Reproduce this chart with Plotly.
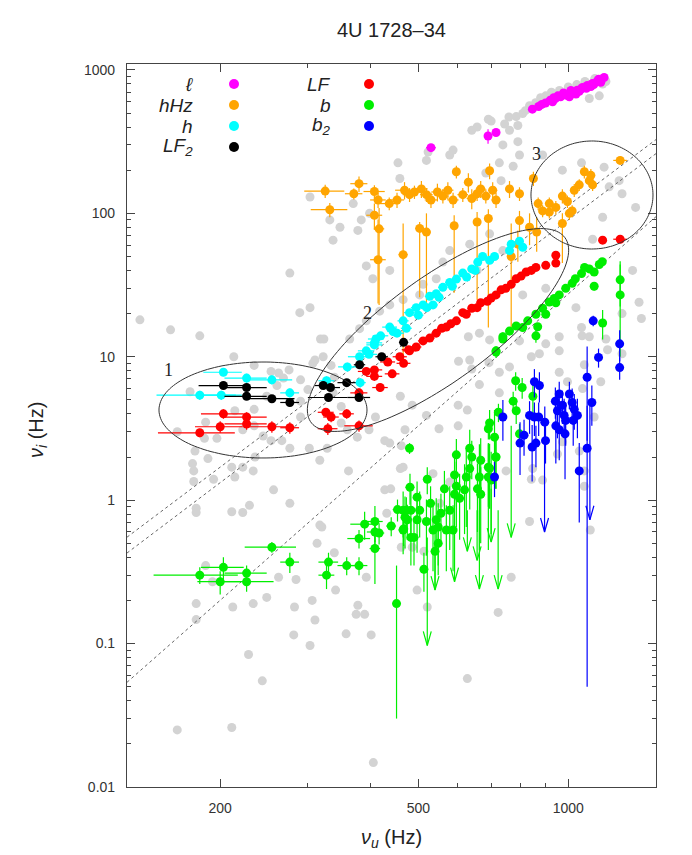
import numpy as np
import plotly.graph_objects as go

# ---------------- data (Hz) ----------------
# background sample (grey)
grey_pts = [
    (182, 14.0), (213, 10), (318, 13.3), (164, 3.0), (174, 5.7), (187, 3.5), (214, 4.2), (234, 4.3),
    (248, 5.3), (260, 6.3), (275, 8.1), (262, 7.7), (290, 4.9), (290, 3.8), (300, 5.9), (307, 9.0),
    (334, 8.7), (339, 7.2), (302, 2.3), (317, 1.9), (328, 2.3), (176, 1.8), (178, 2.2), (177, 1.6),
    (177, 1.35), (189, 1.95), (194, 1.4), (211, 1.7), (214, 1.45), (222, 1.7), (233, 1.6), (235, 2.0),
    (256, 1.18), (276, 0.95), (211, 0.83), (222, 0.82), (229, 0.92), (179, 0.88), (179, 0.82),
    (187, 0.35), (193, 0.27), (179, 0.19), (179, 0.147), (212, 0.18), (233, 0.19), (248, 0.21),
    (262, 0.29), (284, 0.28), (282, 0.18), (281, 0.115), (303, 0.097), (306, 0.2), (310, 0.146),
    (313, 0.5), (320, 0.65), (339, 0.43), (341, 0.236), (378, 0.185), (390, 0.16), (375, 0.16),
    (402, 0.115), (393, 0.29), (228, 0.084), (243, 0.055), (211, 0.026), (164, 0.025), (406, 0.0148),
    (234, 3.3), (244, 2.8), (253, 2.6), (222, 3.1), (197, 2.7), (186, 2.7), (266, 2.6), (276, 2.3),
    (234, 8.7), (253, 7.9), (268, 7.1), (290, 6.9), (310, 9.5), (322, 10), (337, 5.6), (350, 4.5),
    (350, 3.45), (360, 3.1), (377, 2.75), (398, 3.1), (410, 3.8), (428, 2.6), (460, 5.3), (462, 2.4),
    (438, 2.5), (428, 1.18), (440, 1.2), (460, 1.66), (432, 0.81), (362, 1.6), (317, 0.67), (358, 0.117),
    (695, 13.1), (630, 13.8), (602, 9.3), (640, 8.2), (663, 6.4), (727, 5.6), (762, 8.5), (843, 10),
    (875, 10.5), (959, 7.8), (1077, 8.8), (1066, 14), (1102, 13.8), (959, 13.8), (1199, 11.2),
    (1162, 6.7), (1068, 6.0), (1127, 3.8), (996, 6.7), (1077, 1.25), (1107, 0.62), (836, 0.71),
    (768, 0.29), (723, 0.165), (627, 0.057), (521, 0.18), (497, 0.236), (486, 0.47), (513, 0.44),
    (552, 0.95), (578, 1.34), (601, 3.3), (627, 4.25), (550, 3.15), (519, 3.9), (486, 4.6), (470, 3.1),
    (601, 4.6), (634, 9.5), (693, 9.1), (727, 7.8), (750, 1.6), (848, 1.66), (888, 1.38), (951, 2.1),
    (1077, 1.6), (1052, 2.2), (973, 2.55), (843, 1.4), (535, 1.53), (466, 1.7), (462, 0.47),
    (303, 130), (332, 90), (348, 80), (337, 65), (370, 117), (384, 90), (378, 76), (399, 100),
    (459, 175), (455, 225), (519, 234), (523, 268), (578, 255), (587, 276), (640, 380), (683, 191),
    (733, 169), (786, 473), (810, 497), (836, 563), (792, 410), (745, 420), (762, 380), (691, 453),
    (656, 400), (901, 660), (1172, 798), (1154, 660), (1102, 632), (792, 316), (739, 300), (727, 225),
    (775, 213), (798, 255), (888, 255), (973, 200), (1063, 225), (1180, 210), (1208, 153), (1282, 137),
    (1365, 110), (1265, 169), (1119, 66), (1172, 94), (1346, 40), (1387, 24), (1402, 18.5), (1282, 20),
    (1282, 10.5), (1036, 22), (1063, 16), (1190, 13.3), (901, 30), (810, 27), (901, 12.3), (959, 11),
    (798, 12.9), (663, 14.6), (656, 40), (695, 72), (739, 55), (634, 61), (560, 45.7), (543, 35),
    (511, 32), (503, 27), (466, 25), (438, 23), (418, 20.8), (393, 17.8), (381, 15.7), (364, 13.3),
    (323, 13.3), (289, 20.3), (303, 22), (276, 38.3), (393, 43), (405, 35), (438, 40), (578, 55),
    (138, 18.1), (159, 15.4), (880, 640), (925, 700), (960, 720), (1000, 760), (1040, 790), (1080, 830),
    (1130, 870), (1190, 830), (860, 590), (820, 520), (700, 440), (760, 470),
]

# l (magenta): (nu_u, nu_i, err_u, err_i)
ell_pts = [
    (530, 287, 12, 8), (690, 346, 8, 40), (716, 366, 8, 15), (847, 533, 10, 20), (872, 556, 10, 20),
    (900, 588, 10, 20), (930, 600, 10, 20), (942, 632, 10, 20), (953, 660, 10, 20), (965, 650, 10, 20),
    (990, 667, 10, 20), (1005, 650, 10, 20), (1018, 693, 10, 20), (1036, 680, 10, 20), (1042, 722, 10, 20),
    (1052, 710, 10, 20), (1068, 755, 10, 20), (1087, 745, 10, 20), (1092, 780, 10, 20), (1110, 765, 10, 20),
    (1118, 805, 10, 20), (1143, 835, 10, 20), (1162, 820, 10, 20), (1180, 885, 10, 20),
    (935, 640, 10, 20), (978, 690, 10, 20), (1012, 720, 10, 20), (1060, 735, 10, 20), (1125, 790, 10, 20),
    (1150, 860, 10, 20), (920, 615, 10, 20), (885, 575, 10, 20),
]

# hHz (orange): (nu_u, nu_i, err_u, err_i_minus, err_i_plus)
hhz_pts = [
    (325, 143, 30, 15, 15), (332, 106, 28, 12, 12), (371, 137, 15, 12, 12), (380, 161, 15, 20, 20),
    (408, 142, 20, 15, 15), (415, 124, 15, 15, 15), (437, 117, 20, 12, 12), (453, 124, 15, 15, 15),
    (469, 145, 20, 20, 20), (480, 135, 15, 15, 15), (491, 141, 15, 15, 15), (507, 148, 15, 20, 20),
    (519, 135, 15, 15, 15), (530, 124, 15, 15, 15), (546, 141, 15, 20, 20), (560, 132, 15, 15, 15),
    (573, 145, 15, 20, 20), (587, 124, 15, 15, 15), (596, 195, 10, 20, 20), (614, 135, 15, 15, 15),
    (630, 165, 10, 25, 25), (640, 127, 15, 20, 20), (656, 137, 15, 15, 15), (667, 148, 15, 20, 20),
    (683, 132, 15, 15, 15), (695, 198, 10, 25, 25), (705, 145, 15, 20, 20), (716, 124, 15, 15, 15),
    (762, 148, 15, 20, 20), (798, 137, 15, 15, 15), (851, 175, 10, 20, 20), (888, 104, 15, 10, 10),
    (916, 117, 15, 12, 12), (944, 110, 15, 12, 12), (973, 132, 15, 15, 15), (996, 121, 15, 12, 12),
    (1028, 145, 15, 15, 15), (1052, 158, 15, 15, 15), (1077, 195, 15, 20, 20), (1102, 169, 12, 15, 15),
    (1110, 184, 12, 20, 20), (1119, 158, 12, 15, 15), (1271, 234, 40, 15, 15), (1018, 104, 15, 10, 10),
    (870, 117, 15, 12, 12), (916, 102, 15, 10, 10), (1005, 100, 15, 10, 10),
    (408, 97, 15, 20, 20), (417, 78, 10, 55, 31), (415, 47.5, 15, 24, 43), (466, 51.5, 10, 42.6, 33.5),
    (503, 78.5, 10, 52.5, 8.5), (519, 74, 10, 51, 26), (590, 82, 10, 54, 15), (656, 87, 10, 62, 15),
    (691, 92, 10, 76, 15), (768, 50, 10, 34, 35), (798, 89, 10, 15, 15), (792, 61, 10, 15, 15),
    (836, 80, 10, 20, 20), (864, 74, 10, 20, 20), (973, 85, 10, 40, 15),
]

# h (cyan)
h_pts = [
    (203, 7.8, 18, 0.5), (226, 7.1, 22, 0.5), (254, 6.9, 25, 0.5), (182, 5.4, 33, 0.4), (201, 5.4, 20, 0.4),
    (276, 5.6, 12, 0.4), (327, 6.8, 12, 0.5), (360, 8.5, 15, 0.6), (382, 6.6, 10, 0.5), (398, 10.4, 15, 0.6),
    (408, 12.5, 15, 0.7), (381, 10, 20, 0.6), (393, 11.0, 15, 0.6), (408, 12.1, 15, 0.7), (411, 13.3, 15, 0.7),
    (420, 14, 15, 0.7), (438, 16.1, 15, 0.8), (445, 15, 12, 0.8), (453, 14.6, 15, 0.8), (466, 17.8, 12, 0.9),
    (473, 15.8, 12, 0.8), (480, 20.3, 12, 1), (495, 22, 12, 1), (500, 19.5, 12, 1), (511, 23, 12, 1),
    (520, 22, 12, 1), (527, 26.4, 12, 1), (535, 23, 12, 1), (543, 27.5, 12, 1.2), (550, 26, 12, 1.2),
    (560, 30.5, 12, 1.2), (578, 33, 12, 1.5), (585, 31, 12, 1.5), (596, 34.8, 12, 1.5), (614, 38.3, 12, 1.5),
    (625, 36, 12, 1.5), (640, 41, 12, 2), (650, 40, 12, 2), (658, 45.7, 12, 2), (673, 50, 12, 2),
    (695, 47, 12, 2), (711, 50, 12, 2), (762, 55, 12, 3), (768, 61, 12, 3), (798, 64, 12, 3), (810, 58, 12, 3),
]

# LF2 (black)
lf2_pts = [
    (203, 6.3, 22, 0.3), (226, 6.1, 22, 0.3), (226, 5.3, 22, 0.3), (254, 5.1, 28, 0.3), (276, 4.8, 12, 0.3),
    (322, 6.3, 12, 0.3), (333, 6.1, 15, 0.3), (330, 5.2, 30, 0.3), (359, 6.6, 15, 0.3), (380, 5.2, 20, 0.3),
    (381, 8.8, 10, 0.4), (422, 10, 12, 0.4), (467, 12.6, 10, 0.5),
]

# LF (red)
lf_pts = [
    (203, 4.0, 20, 0.3), (226, 3.8, 22, 0.3), (226, 3.4, 22, 0.3), (200, 3.25, 22, 0.3), (182, 2.95, 32, 0.2),
    (254, 3.25, 25, 0.3), (276, 3.2, 12, 0.3), (326, 4.1, 12, 0.3), (334, 3.8, 12, 0.3), (359, 4.0, 12, 0.3),
    (329, 3.15, 15, 0.3), (380, 3.3, 25, 0.3), (380, 5.6, 15, 0.4), (393, 7.9, 15, 0.5), (408, 8.1, 15, 0.5),
    (419, 6.1, 15, 0.4), (408, 7.3, 15, 0.5), (443, 7.6, 15, 0.5), (434, 9.2, 15, 0.5), (467, 9.0, 15, 0.5),
    (478, 11.2, 15, 0.6), (459, 10, 15, 0.6), (480, 11, 15, 0.6), (495, 11.7, 12, 0.6), (511, 12.9, 12, 0.7),
    (527, 13.5, 12, 0.7), (543, 14.6, 12, 0.8), (557, 15.8, 12, 0.8), (569, 16.1, 12, 0.8), (581, 17, 12, 0.9),
    (596, 17.8, 12, 0.9), (614, 20.3, 12, 1), (624, 19.8, 12, 1), (640, 21.8, 12, 1), (656, 22, 12, 1),
    (667, 23.8, 12, 1.2), (688, 24.4, 12, 1.2), (700, 25.7, 12, 1.2), (716, 27, 12, 1.2), (733, 29.3, 12, 1.5),
    (749, 30, 12, 1.5), (768, 32, 12, 1.5), (786, 35, 12, 1.5), (804, 36.5, 12, 1.8), (823, 39, 12, 2),
    (843, 40, 12, 2), (861, 42, 12, 2), (901, 43.4, 12, 2), (944, 51, 12, 2.5), (944, 45, 12, 2.5),
    (1172, 65, 20, 3), (1271, 66, 40, 3),
]

# b (green)
b_pts = [
    (182, 0.30, 35, 0.04), (203, 0.34, 20, 0.06), (200, 0.27, 20, 0.05), (226, 0.31, 22, 0.04),
    (226, 0.27, 30, 0.04), (254, 0.47, 30, 0.04), (276, 0.37, 12, 0.06), (327, 0.30, 12, 0.06),
    (330, 0.37, 15, 0.06), (359, 0.35, 15, 0.05), (380, 0.35, 15, 0.05), (380, 0.54, 20, 0.08),
    (390, 0.68, 25, 0.15), (409, 0.71, 15, 0.2), (409, 0.60, 15, 0.15), (409, 0.46, 10, 0.2),
    (417, 0.59, 10, 0.1), (441, 0.66, 10, 0.1), (452, 0.19, 8, 0.16), (454, 0.86, 10, 0.15),
    (467, 0.63, 10, 0.15), (480, 2.3, 5, 0.2), (490, 0.55, 10, 0.2), (473, 0.85, 10, 0.2),
    (475, 0.73, 10, 0.2), (481, 1.23, 10, 0.3),
    (739, 13.8, 8, 1), (716, 10.8, 8, 1), (861, 14, 8, 1.5), (784, 6.8, 8, 1), (808, 6.1, 8, 1),
    (775, 4.9, 8, 0.8), (786, 4.2, 8, 0.8), (724, 4.1, 8, 0.6), (849, 5.3, 8, 1.5), (798, 2.9, 8, 0.5),
    (691, 3.15, 8, 0.5), (695, 3.45, 8, 0.8), (711, 2.75, 8, 1.5), (715, 2.0, 8, 0.8), (695, 1.67, 8, 0.8),
    (691, 1.45, 8, 1.0), (667, 1.9, 8, 0.8), (663, 1.45, 8, 1.0), (667, 1.1, 8, 0.6), (657, 1.2, 8, 0.6),
    (640, 2.0, 8, 0.6), (634, 2.3, 8, 0.8), (634, 1.66, 8, 0.8), (624, 1.45, 8, 0.8), (619, 1.18, 8, 0.6),
    (596, 2.07, 8, 0.6), (591, 1.5, 8, 0.6), (596, 1.25, 8, 0.6), (591, 1.1, 8, 0.5), (605, 1.03, 8, 0.5),
    (587, 0.62, 8, 0.3), (564, 1.2, 8, 0.4), (569, 0.62, 8, 0.3), (578, 0.85, 8, 0.4), (555, 0.81, 8, 0.3),
    (543, 0.73, 8, 0.3), (548, 0.65, 8, 0.3), (540, 0.44, 8, 0.2), (548, 0.50, 8, 0.2), (529, 0.95, 8, 0.3),
    (521, 1.4, 8, 0.3), (513, 0.33, 8, 0.1), (497, 1.05, 8, 0.3), (503, 0.85, 8, 0.3), (497, 0.73, 8, 0.3),
    (483, 0.85, 8, 0.3), (483, 0.55, 8, 0.2), (470, 0.76, 8, 0.3), (466, 0.85, 10, 0.3), (466, 0.62, 10, 0.2),
    (519, 0.71, 8, 0.3), (535, 0.62, 8, 0.3), (700, 1.38, 8, 0.8), (691, 1.7, 8, 0.8), (716, 2.0, 8, 0.8),
    (716, 11, 8, 0.8), (739, 13.3, 8, 0.8), (762, 15.1, 8, 1), (786, 16.4, 8, 1), (810, 16, 8, 1),
    (829, 17.8, 8, 1), (861, 19.8, 8, 1), (868, 16.2, 8, 1), (888, 21.8, 8, 1), (901, 19.8, 8, 1),
    (916, 24.1, 8, 1), (937, 25.5, 8, 1), (944, 23.8, 8, 1), (959, 27, 8, 1.2), (988, 30, 8, 1.2),
    (1018, 32.5, 8, 1.5), (1033, 35, 8, 1.5), (1063, 38, 8, 2), (1078, 42, 8, 2), (1102, 41, 8, 2),
    (1127, 39, 8, 2), (1154, 44, 8, 2), (1170, 46, 8, 2), (1127, 31, 8, 2), (1172, 17.2, 15, 4),
    (1271, 34.4, 10, 12), (1271, 27, 10, 17),
]

# b2 (blue)
b2_pts = [
    (739, 3.8, 8, 1.2), (711, 1.45, 5, 0.4), (815, 2.84, 8, 0.8), (800, 2.5, 8, 1.0), (846, 2.35, 8, 1.0),
    (861, 2.5, 8, 0.8), (855, 6.7, 8, 1.5), (875, 6.3, 8, 1.5), (836, 3.9, 8, 1.0), (855, 3.8, 8, 1.0),
    (872, 3.8, 8, 1.0), (897, 3.5, 8, 1.0), (900, 2.6, 8, 0.8), (942, 4.9, 8, 1.2), (959, 5.5, 8, 1.2),
    (951, 4.2, 8, 1.5), (944, 3.3, 8, 1.5), (959, 3.1, 8, 1.2), (973, 4.6, 8, 1.2), (981, 3.9, 8, 1.2),
    (988, 3.6, 8, 1.2), (985, 2.9, 8, 1.5), (1005, 5.5, 8, 1.2), (1018, 4.8, 8, 1.2), (1028, 4.3, 8, 1.2),
    (1023, 3.6, 8, 1.2), (1043, 3.9, 8, 1.2), (1052, 1.6, 8, 0.9), (1091, 7.2, 8, 4.6), (1091, 2.3, 8, 2.25),
    (1115, 4.8, 15, 1.5), (1150, 9.9, 8, 1.5), (1268, 12.3, 20, 3), (1268, 8.4, 8, 1.5), (1122, 17.8, 15, 1.5),
]

# upper limits: (nu_u, top of stem, arrow tip)
b_limits = [
    (521, 0.55, 0.097), (540, 0.5, 0.236), (591, 0.62, 0.27), (627, 0.85, 0.44), (656, 0.85, 0.38),
    (663, 0.85, 0.24), (700, 1.2, 0.51), (723, 0.85, 0.24), (768, 3.3, 0.55),
]
b2_limits = [(896, 3.3, 0.6), (1105, 4.8, 0.73)]

# dotted reference lines: (nu_u_start, nu_i_start, nu_u_end, nu_i_end)
ref_lines = [
    (130, 0.552, 1500, 327),
    (130, 0.428, 1500, 261),
    (130, 0.0537, 1500, 94.8),
]

# ---------------- figure ----------------
# reference page geometry (px); the page body adds an 8 px offset
PAGE_W, PAGE_H, OFF = 692, 855, 8
X0, X1, Y0, Y1 = 127, 656, 64, 787          # plot frame on the page
W, H = PAGE_W - OFF, PAGE_H - OFF
ML, MT = X0 - OFF, Y0 - OFF
PW, PH = X1 - X0, Y1 - Y0
MR, MB = W - ML - PW, H - MT - PH


def to_paper(px, py):
    return (px - X0) / PW, (Y1 - py) / PH


fig = go.Figure()

gx, gy = zip(*grey_pts)
fig.add_trace(go.Scatter(x=gx, y=gy, mode="markers",
                         marker=dict(color="#d3d3d3", size=9, line=dict(width=0))))

for x0, y0, x1, y1 in ref_lines:
    fig.add_trace(go.Scatter(x=[x0, x1], y=[y0, y1], mode="lines",
                             line=dict(color="#666666", width=1, dash="dot")))


def add_series(pts, color):
    xs = [p[0] for p in pts]
    ys = [p[1] for p in pts]
    ex = [p[2] for p in pts]
    if len(pts[0]) == 5:
        ey = dict(type="data", symmetric=False, array=[p[4] for p in pts],
                  arrayminus=[p[3] for p in pts], color=color, thickness=1.2, width=0)
    else:
        ey = dict(type="data", array=[p[3] for p in pts], color=color, thickness=1.2, width=0)
    fig.add_trace(go.Scatter(
        x=xs, y=ys, mode="markers",
        marker=dict(color=color, size=9, line=dict(width=0)),
        error_x=dict(type="data", array=ex, color=color, thickness=1.2, width=0),
        error_y=ey))


def add_limits(lims, color):
    fx = 10 ** (4 / 499)     # half width of the arrow head (~4 px)
    fy = 10 ** (14 / 143.2)  # height of the arrow head (~14 px)
    xs, ys = [], []
    for x, top, tip in lims:
        xs += [x, x, None, x * fx, x, x / fx, None]
        ys += [top, tip, None, tip * fy, tip, tip * fy, None]
    fig.add_trace(go.Scatter(x=xs, y=ys, mode="lines", line=dict(color=color, width=1.2)))


add_limits(b_limits, "#00ee00")
add_limits(b2_limits, "#0000ff")
add_series(hhz_pts, "#ffa500")
add_series(b_pts, "#00ee00")
add_series(b2_pts, "#0000ff")
add_series(lf_pts, "#ff0000")
add_series(h_pts, "#00ffff")
add_series(lf2_pts, "#000000")
add_series(ell_pts, "#ff00ff")


# ellipses (drawn in screen space, converted to paper coordinates)
def ellipse_path(cx, cy, a, b, deg):
    t = np.linspace(0, 2 * np.pi, 160)
    th = np.radians(deg)
    px = cx + a * np.cos(t) * np.cos(th) - b * np.sin(t) * np.sin(th)
    py = cy - (a * np.cos(t) * np.sin(th) + b * np.sin(t) * np.cos(th))
    xs, ys = to_paper(px, py)
    return "M " + " L ".join(f"{x:.4f},{y:.4f}" for x, y in zip(xs, ys)) + " Z"


for cx, cy, a, b, deg in [(263, 410, 104, 48, 0), (438, 330, 157, 52, 36), (592, 195, 61, 54, 0)]:
    fig.add_shape(type="path", path=ellipse_path(cx, cy, a, b, deg), xref="paper", yref="paper",
                  line=dict(color="#333333", width=1))

for txt, px, py in [("1", 168, 370), ("2", 367, 313), ("3", 536, 154)]:
    xp, yp = to_paper(px, py)
    fig.add_annotation(text=txt, x=xp, y=yp, xref="paper", yref="paper", xanchor="center",
                       yanchor="middle", showarrow=False,
                       font=dict(family="Liberation Serif", size=18, color="#222"))

# legend drawn by hand
legend_items = [
    ("ℓ", "#ff00ff", 195, 234, 84), ("hHz", "#ffa500", 195, 234, 105), ("h", "#00ffff", 195, 234, 126),
    ("LF<sub>2</sub>", "#000000", 195, 234, 147), ("LF", "#ff0000", 333, 369, 84),
    ("b", "#00ee00", 333, 369, 105), ("b<sub>2</sub>", "#0000ff", 333, 369, 126),
]
for txt, col, tx, dx, py in legend_items:
    xp, yp = to_paper(tx, py)
    fig.add_annotation(text=f"<i>{txt}</i>", x=xp, y=yp, xref="paper", yref="paper",
                       xanchor="right", yanchor="middle", showarrow=False,
                       font=dict(family="Liberation Sans", size=19, color="#222"))
    fig.add_shape(type="circle", xref="paper", yref="paper", xsizemode="pixel", ysizemode="pixel",
                  xanchor=to_paper(dx, py)[0], yanchor=yp, x0=-5, x1=5, y0=-5, y1=5,
                  fillcolor=col, line=dict(width=0))

# axis titles
xp, yp = to_paper((X0 + X1) / 2, 838)
fig.add_annotation(text="<i>ν<sub>u</sub></i> (Hz)", x=xp, y=yp, xref="paper", yref="paper",
                   xanchor="center", yanchor="middle", showarrow=False, font=dict(size=20, color="#222"))
xp, yp = to_paper(37, 430)
fig.add_annotation(text="<i>ν<sub>i</sub></i> (Hz)", x=xp, y=yp, xref="paper", yref="paper",
                   xanchor="center", yanchor="middle", textangle=-90, showarrow=False,
                   font=dict(size=20, color="#222"))

y_minor = [k * 10.0 ** e for e in range(-2, 3) for k in range(2, 10)]

axis_common = dict(
    ticks="inside", ticklen=8, tickwidth=1, tickcolor="#444",
    showline=True, linecolor="#444", linewidth=1.2, mirror="allticks",
    showgrid=False, zeroline=False, tickfont=dict(size=14, color="#333"),
    ticklabelstandoff=8, automargin=False,
)

fig.update_layout(
    width=W, height=H,
    margin=dict(l=ML, r=MR, t=MT, b=MB),
    paper_bgcolor="white", plot_bgcolor="white",
    showlegend=False,
    font=dict(family="Liberation Sans", color="#222"),
    title=dict(text="4U 1728–34", x=((X0 + X1) / 2 - OFF) / W, xanchor="center",
               y=1 - (30 - OFF) / H, yanchor="middle", font=dict(size=20, color="#222"), automargin=False),
    xaxis=dict(
        type="log", range=[np.log10(130), np.log10(1500)],
        tickvals=[200, 500, 1000], ticktext=["200", "500", "1000"],
        minor=dict(tickvals=[300, 400, 600, 700, 800, 900], ticks="inside", ticklen=4, tickcolor="#444"),
        **axis_common,
    ),
    yaxis=dict(
        type="log", range=[-2, np.log10(1100)],
        tickvals=[0.01, 0.1, 1, 10, 100, 1000], ticktext=["0.01", "0.1", "1", "10", "100", "1000"],
        minor=dict(tickvals=y_minor, ticks="inside", ticklen=4, tickcolor="#444"),
        **axis_common,
    ),
)

fig.write_html("out.html")
